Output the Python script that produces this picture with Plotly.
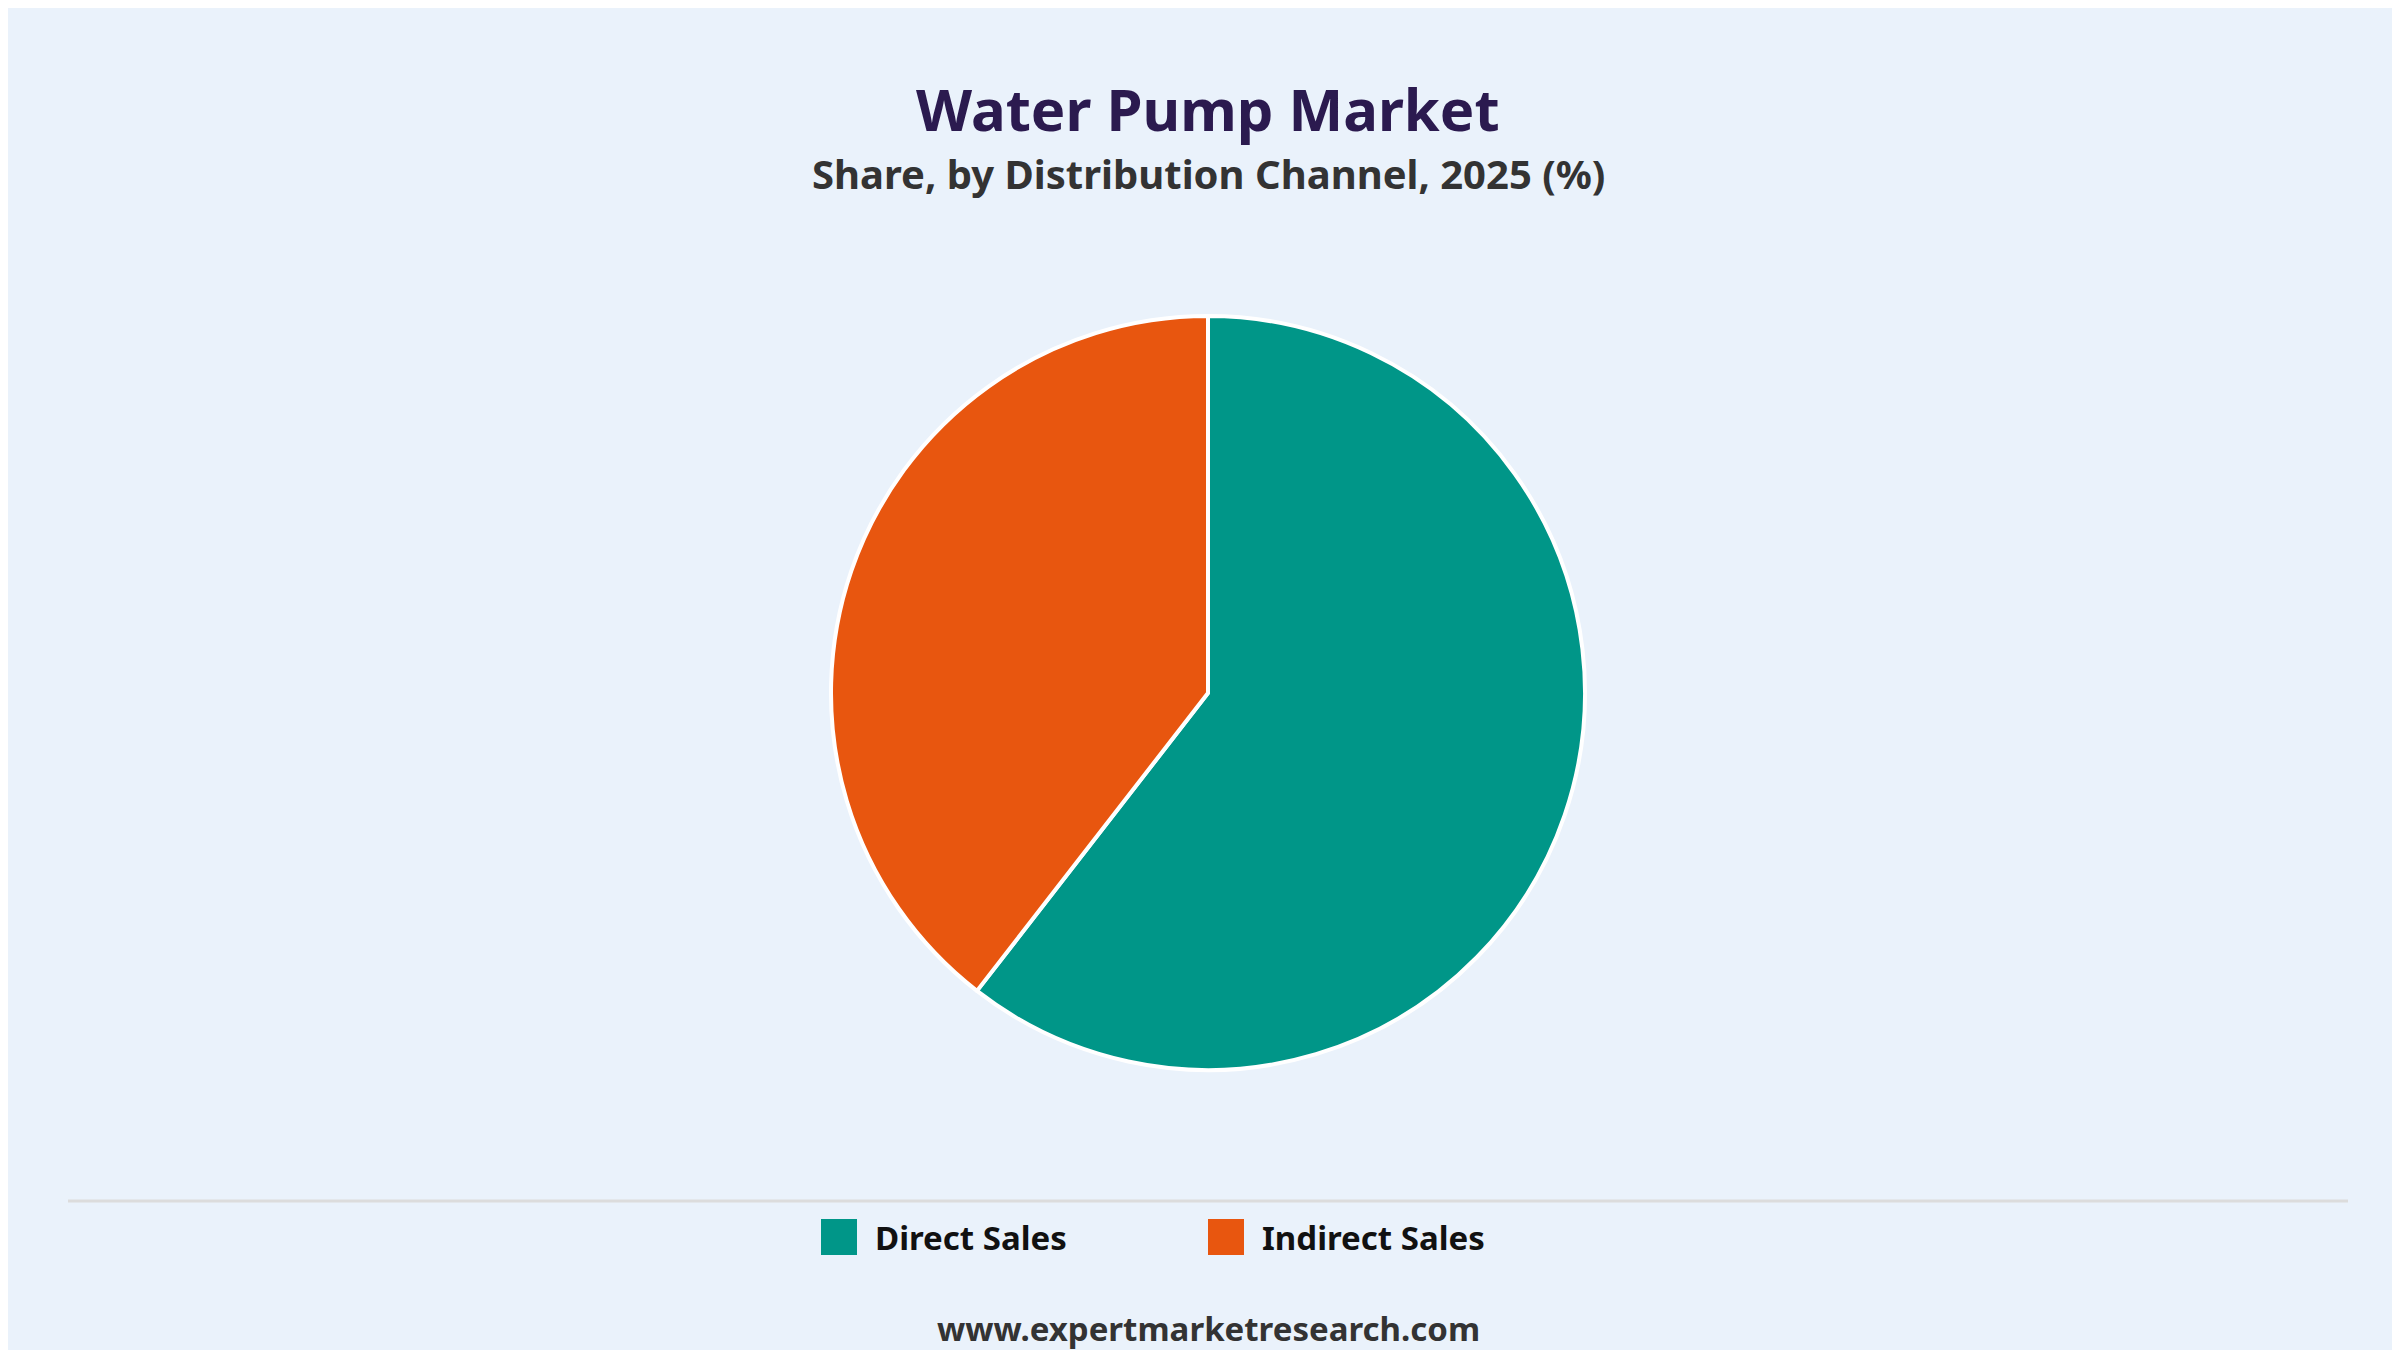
import plotly.graph_objects as go

channels = ["Direct Sales", "Indirect Sales"]
shares = [60.5, 39.5]
colors = ["#009688", "#E8560F"]

W, H = 2400, 1350
font = "Noto Sans"

fig = go.Figure(go.Pie(
    labels=channels, values=shares, sort=False, direction="clockwise", rotation=0,
    marker=dict(colors=colors, line=dict(color="white", width=4)),
    textinfo="none", hoverinfo="label+percent", showlegend=False,
    domain=dict(x=[0.3, 0.7], y=[1 - 1062 / H, 1 - 308 / H]),
))

shapes = [dict(type="line", xref="paper", yref="paper", x0=60 / W, x1=2340 / W,
               y0=1 - 1193 / H, y1=1 - 1193 / H, line=dict(color="#dcdcdc", width=3))]
annotations = [
    dict(text="<b>Water Pump Market</b>", x=0.5, y=1 - 100 / H, xref="paper", yref="paper",
         yanchor="middle", showarrow=False, font=dict(family=font, size=58, color="#2B1A4F")),
    dict(text="<b>Share, by Distribution Channel, 2025 (%)</b>", x=0.5, y=1 - 165 / H,
         xref="paper", yref="paper", yanchor="middle", showarrow=False,
         font=dict(family=font, size=40, color="#333333")),
    dict(text="<b>www.expertmarketresearch.com</b>", x=0.5, y=1 - 1320 / H, xref="paper",
         yref="paper", yanchor="middle", showarrow=False,
         font=dict(family=font, size=33, color="#333333")),
]
legend_x = [813, 1200]
for name, c, lx in zip(channels, colors, legend_x):
    shapes.append(dict(type="rect", xref="paper", yref="paper", x0=lx / W, x1=(lx + 36) / W,
                       y0=1 - 1247 / H, y1=1 - 1211 / H, fillcolor=c, line=dict(width=0),
                       layer="above"))
    annotations.append(dict(text=f"<b>{name}</b>", x=(lx + 52) / W, y=1 - 1229 / H,
                            xref="paper", yref="paper", xanchor="left", yanchor="middle",
                            showarrow=False, font=dict(family=font, size=33, color="#111111")))

fig.update_layout(width=W, height=H, paper_bgcolor="#EAF2FB", plot_bgcolor="#EAF2FB",
                  margin=dict(l=0, r=0, t=0, b=0), shapes=shapes, annotations=annotations)
fig.write_html("out.html")
